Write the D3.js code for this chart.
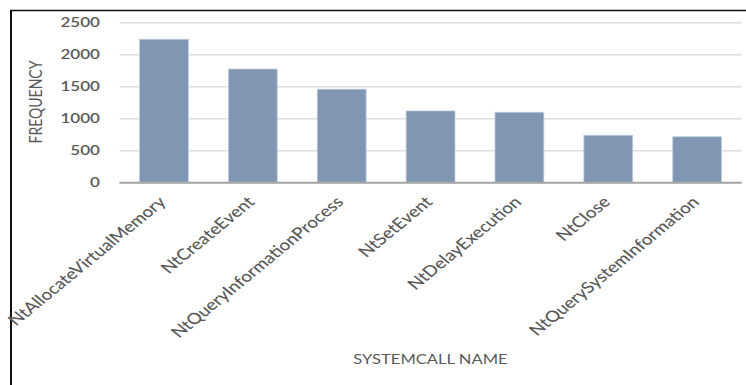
<!DOCTYPE html>
<html>
<head>
<meta charset="utf-8">
<script src="https://cdn.jsdelivr.net/npm/d3@7"></script>
<style>
  html, body { margin: 0; padding: 0; background: #fff; }
  svg { display: block; }
  text { font-family: Lato, "Open Sans", sans-serif; fill: #595959; }
</style>
</head>
<body>
<svg id="chart" width="746" height="385"></svg>
<script>
// System call frequencies
const categories = [
  "NtAllocateVirtualMemory",
  "NtCreateEvent",
  "NtQueryInformationProcess",
  "NtSetEvent",
  "NtDelayExecution",
  "NtClose",
  "NtQuerySystemInformation"
];
const frequencies = [2235, 1770, 1455, 1115, 1095, 735, 712];
const yTicks = [0, 500, 1000, 1500, 2000, 2500];
const yTitle = "FREQUENCY";
const xTitle = "SYSTEMCALL NAME";

const svg = d3.select("#chart");
const W = 746, H = 385;
const stretch = 1.22; // labels are drawn slightly wide

// Frame (left and top edges)
svg.append("line").attr("x1", 11).attr("x2", 11).attr("y1", 10).attr("y2", H)
  .attr("stroke", "#111").attr("stroke-width", 2);
svg.append("line").attr("x1", 10).attr("x2", W).attr("y1", 10.5).attr("y2", 10.5)
  .attr("stroke", "#111").attr("stroke-width", 1.6);

const plot = { left: 119.5, right: 741.6, top: 22.3, bottom: 182.3 };

const x = d3.scaleBand()
  .domain(categories)
  .range([plot.left, plot.right])
  .paddingInner(0.45)
  .paddingOuter(0.225);

const y = d3.scaleLinear()
  .domain([0, 2500])
  .range([plot.bottom, plot.top]);

// Gridlines
const yAxis = d3.axisLeft(y).tickValues(yTicks).tickSize(-(plot.right - plot.left)).tickFormat("");
const grid = svg.append("g").attr("transform", `translate(${plot.left},0)`).call(yAxis);
grid.select(".domain").remove();
grid.selectAll(".tick line").attr("stroke", "#dedede").attr("stroke-width", 1.6);

// Tick labels
svg.append("g").selectAll("text")
  .data(yTicks)
  .join("text")
  .attr("transform", d => `translate(100,${y(d)}) scale(${stretch},1)`)
  .attr("text-anchor", "end")
  .attr("dy", "0.36em")
  .style("font-size", "14px")
  .style("font-weight", "600")
  .text(d => d);

// Bars
svg.append("g").selectAll("rect")
  .data(categories)
  .join("rect")
  .attr("x", d => x(d))
  .attr("width", x.bandwidth())
  .attr("y", (d, i) => y(frequencies[i]))
  .attr("height", (d, i) => y(0) - y(frequencies[i]))
  .attr("fill", "#8096b3")
  .attr("stroke", "#c3cedc")
  .attr("stroke-width", 0.8);

// Baseline
svg.append("line")
  .attr("x1", plot.left).attr("x2", plot.right)
  .attr("y1", y(0) + 0.5).attr("y2", y(0) + 0.5)
  .attr("stroke", "#a6a6a6").attr("stroke-width", 2);

// Category labels, rotated
svg.append("g").selectAll("text")
  .data(categories)
  .join("text")
  .attr("transform", d => `translate(${x(d) + x.bandwidth() / 2 + 3},203) scale(${stretch},1) rotate(-45)`)
  .attr("text-anchor", "end")
  .style("font-size", "15.5px")
  .style("font-weight", "500")
  .text(d => d);

// Axis titles
svg.append("text")
  .attr("transform", `translate(42,102) scale(${stretch},1) rotate(-90)`)
  .attr("text-anchor", "middle")
  .style("font-size", "14px")
  .text(yTitle);

svg.append("text")
  .attr("transform", `translate(430.5,364) scale(${stretch},1)`)
  .attr("text-anchor", "middle")
  .style("font-size", "13.6px")
  .text(xTitle);
</script>
</body>
</html>
